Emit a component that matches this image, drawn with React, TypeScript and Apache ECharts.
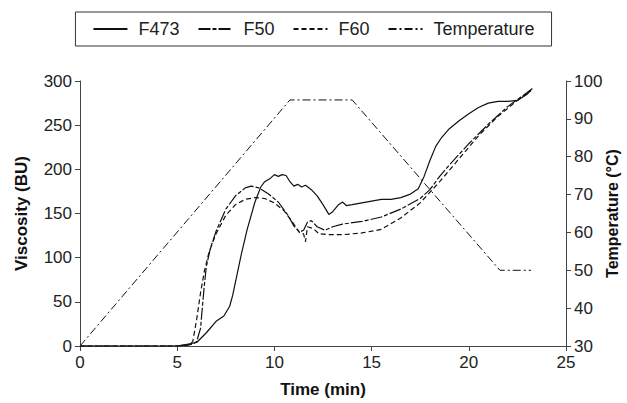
import React, { useEffect, useRef } from "react";
import * as echarts from "echarts";

const legendNames = ["F473", "F50", "F60", "Temperature"];

const f473: [number, number][] = [
  [0, 0], [5.0, 0], [5.5, 2], [6.0, 4], [6.5, 15], [7.0, 28], [7.4, 34], [7.7, 45], [7.85, 57],
  [8.05, 78], [8.3, 104], [8.6, 132], [9.0, 163], [9.3, 180], [9.5, 186], [9.8, 190], [10.0, 194],
  [10.2, 192], [10.4, 194], [10.6, 193], [10.8, 186], [11.0, 181], [11.2, 183], [11.4, 180],
  [11.6, 182], [11.9, 177], [12.2, 170], [12.5, 160], [12.8, 149], [13.0, 152], [13.3, 160],
  [13.5, 163], [13.7, 159], [14.0, 160], [14.5, 162], [15.0, 164], [15.5, 166], [16.0, 166],
  [16.5, 168], [17.0, 172], [17.4, 178], [17.7, 192], [18.0, 210], [18.3, 226], [18.6, 236],
  [19.0, 246], [19.5, 255], [20.0, 263], [20.5, 270], [21.0, 275], [21.5, 277], [22.0, 277],
  [22.5, 278], [23.0, 285], [23.2, 290],
];

const f50: [number, number][] = [
  [0, 0], [5.0, 0], [5.8, 2], [6.0, 5], [6.2, 20], [6.3, 45], [6.4, 70], [6.5, 90], [6.7, 110],
  [7.0, 130], [7.5, 155], [8.0, 170], [8.5, 179], [8.8, 181], [9.2, 179], [9.7, 172], [10.2, 163],
  [10.7, 148], [11.0, 136], [11.3, 129], [11.5, 131], [11.7, 140], [11.9, 142], [12.2, 135],
  [12.6, 131], [13.0, 135], [13.5, 138], [14.5, 141], [15.5, 146], [16.5, 155], [17.5, 167],
  [18.0, 177], [18.5, 192], [19.0, 205], [19.5, 217], [20.0, 229], [20.5, 240], [21.0, 251],
  [21.5, 261], [22.0, 271], [22.5, 279], [23.0, 287], [23.3, 292],
];

const f60: [number, number][] = [
  [0, 0], [5.0, 0], [5.6, 1], [5.8, 5], [6.0, 30], [6.2, 60], [6.4, 85], [6.6, 103], [6.8, 116],
  [7.0, 127], [7.5, 148], [8.0, 160], [8.5, 166], [9.0, 168], [9.5, 167], [10.0, 162],
  [10.5, 153], [11.0, 138], [11.3, 128], [11.5, 127], [11.6, 118], [11.7, 135], [12.0, 133],
  [12.3, 127], [12.8, 126], [13.5, 126], [14.5, 128], [15.5, 132], [16.5, 145], [17.5, 162],
  [18.5, 186], [19.5, 212], [20.5, 238], [21.5, 260], [22.5, 278], [23.2, 289],
];

const temperature: [number, number][] = [
  [0, 30], [10.8, 95], [14.0, 95], [21.6, 50], [23.2, 50],
];

const FONT = "'Liberation Sans', Arial, sans-serif";

export default function App() {
  const ref = useRef<HTMLDivElement>(null);
  useEffect(() => {
    if (!ref.current) return;
    const chart = echarts.init(ref.current, undefined, { renderer: "svg" });
    const axisLine = { show: true, lineStyle: { color: "#444", width: 1 } };
    const axisTick = { show: true, length: 5, lineStyle: { color: "#444" } };
    const axisLabel = { color: "#222", fontSize: 17, fontFamily: FONT };
    const nameStyle = { color: "#111", fontSize: 17, fontWeight: "bold" as const, fontFamily: FONT };
    chart.setOption({
      animation: false,
      backgroundColor: "#fff",
      legend: {
        top: 12,
        left: "center",
        width: 600,
        borderColor: "#333",
        borderWidth: 1,
        padding: [8, 17, 8, 17],
        itemWidth: 34,
        itemHeight: 10,
        itemGap: 18,
        itemStyle: { opacity: 0 },
        textStyle: { color: "#222", fontSize: 18, fontFamily: FONT, padding: [0, 0, 0, 6] },
        data: legendNames,
      },
      grid: { left: 80, right: 61, top: 81, bottom: 57, outerBoundsMode: "none", containLabel: false },
      xAxis: {
        type: "value",
        min: 0,
        max: 25,
        interval: 5,
        name: "Time (min)",
        nameLocation: "middle",
        nameGap: 35,
        nameMoveOverlap: false,
        nameTextStyle: nameStyle,
        axisLine,
        axisTick,
        axisLabel,
        splitLine: { show: false },
      },
      yAxis: [
        {
          type: "value",
          min: 0,
          max: 300,
          interval: 50,
          name: "Viscosity (BU)",
          nameLocation: "middle",
          nameGap: 50,
          nameMoveOverlap: false,
          nameTextStyle: nameStyle,
          axisLine,
          axisTick,
          axisLabel: { ...axisLabel, margin: 8 },
          splitLine: { show: false },
        },
        {
          type: "value",
          min: 30,
          max: 100,
          interval: 10,
          position: "right",
          name: "Temperature (°C)",
          nameLocation: "middle",
          nameGap: 46,
          nameRotate: 90,
          nameMoveOverlap: false,
          nameTextStyle: { ...nameStyle, fontSize: 16, align: "center", verticalAlign: "middle" },
          axisLine,
          axisTick,
          axisLabel: { ...axisLabel, margin: 8 },
          splitLine: { show: false },
        },
      ],
      series: [
        {
          name: "F473",
          type: "line",
          data: f473,
          symbol: "none",
          lineStyle: { color: "#111", width: 1.2, type: "solid" },
          itemStyle: { color: "#111" },
        },
        {
          name: "F50",
          type: "line",
          data: f50,
          symbol: "none",
          lineStyle: { color: "#111", width: 1.2, type: [12, 2, 4, 2] },
          itemStyle: { color: "#111" },
        },
        {
          name: "F60",
          type: "line",
          data: f60,
          symbol: "none",
          lineStyle: { color: "#111", width: 1.2, type: [5, 3] },
          itemStyle: { color: "#111" },
        },
        {
          name: "Temperature",
          type: "line",
          yAxisIndex: 1,
          data: temperature,
          symbol: "none",
          lineStyle: { color: "#111", width: 1, type: [8, 3, 2, 3] },
          itemStyle: { color: "#111" },
        },
      ],
    });
    return () => chart.dispose();
  }, []);
  return <div ref={ref} style={{ width: 627, height: 403, position: "absolute", left: 0, top: 0 }} />;
}
